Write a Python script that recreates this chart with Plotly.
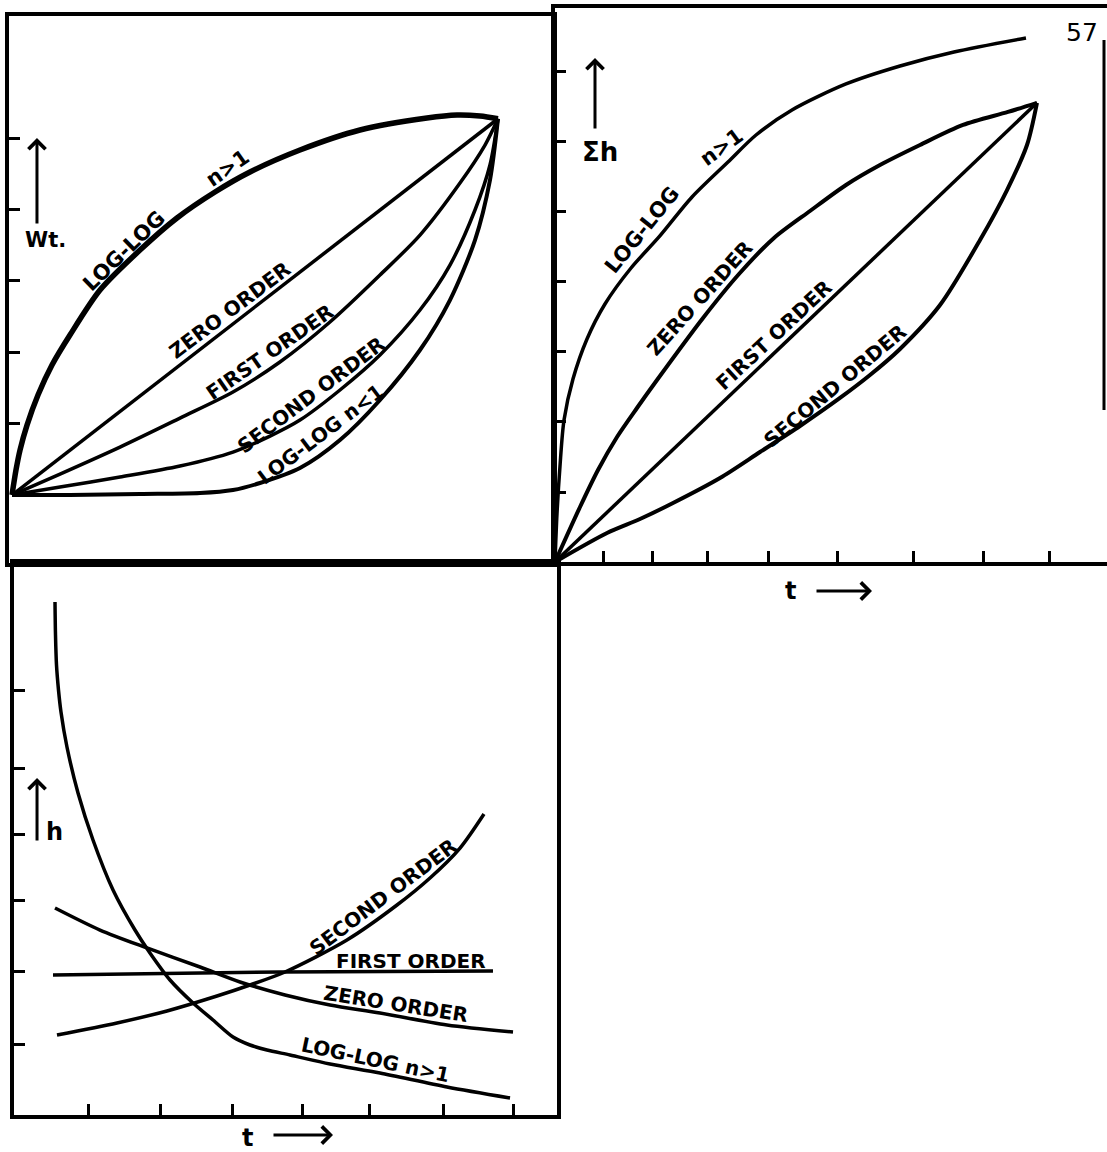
import plotly.graph_objects as go

W, H = 1107, 1152

# --- top left: weight vs time (t scaled 0..10, wt in tick units) ---
tl_t_loglog_gt1 = [0, 0.082, 0.165, 0.309, 0.535, 0.823, 1.193, 1.811, 2.634, 3.395, 4.177, 4.897, 5.926, 7.160, 8.539, 9.156, 9.630, 10]
tl_wt_loglog_gt1 = [0, 0.350, 0.630, 0.980, 1.401, 1.821, 2.241, 2.871, 3.431, 3.880, 4.244, 4.524, 4.832, 5.112, 5.280, 5.322, 5.308, 5.27]
tl_t_zero = [0, 10]
tl_wt_zero = [0, 5.27]
tl_t_first = [0, 0.988, 2.222, 3.457, 4.547, 5.514, 6.543, 7.572, 8.395, 9.218, 9.733, 10]
tl_wt_first = [0, 0.294, 0.672, 1.078, 1.443, 1.863, 2.423, 3.081, 3.641, 4.370, 4.902, 5.27]
tl_t_second = [0, 0.988, 2.222, 3.457, 4.547, 5.309, 5.926, 6.749, 7.572, 8.395, 9.012, 9.527, 9.835, 10]
tl_wt_second = [0, 0.112, 0.252, 0.406, 0.602, 0.826, 1.050, 1.471, 1.961, 2.591, 3.221, 3.992, 4.622, 5.27]
tl_t_loglog_lt1 = [0, 1.193, 2.634, 3.868, 4.547, 5.103, 5.926, 6.749, 7.572, 8.395, 9.012, 9.527, 9.835, 10]
tl_wt_loglog_lt1 = [0, 0, 0.014, 0.028, 0.070, 0.168, 0.378, 0.770, 1.331, 2.031, 2.731, 3.571, 4.412, 5.27]
tl_yticks = [1, 2, 3, 4, 5]

# --- top right: cumulative h vs time ---
tr_t_loglog = [0, 0.031, 0.078, 0.141, 0.281, 0.5, 0.781, 1.188, 1.625, 2.141, 2.703, 3.141, 3.703, 4.547, 5.391, 6.234, 7.359]
tr_sh_loglog = [0, 0.686, 1.371, 2.029, 2.614, 3.186, 3.686, 4.2, 4.643, 5.214, 5.714, 6.1, 6.457, 6.829, 7.086, 7.286, 7.486]
tr_t_zero = [0, 0.391, 0.672, 0.969, 1.281, 1.594, 2.313, 2.875, 3.422, 3.984, 4.547, 5.078, 5.703, 6.375, 7.078, 7.531]
tr_sh_zero = [0, 0.786, 1.314, 1.786, 2.2, 2.6, 3.486, 4.114, 4.629, 5.014, 5.386, 5.671, 5.957, 6.243, 6.429, 6.56]
tr_t_first = [0, 7.531]
tr_sh_first = [0, 6.56]
tr_t_second = [0, 0.813, 1.328, 1.844, 2.578, 3.203, 3.828, 4.453, 4.922, 5.391, 6.016, 6.641, 7.063, 7.375, 7.531]
tr_sh_second = [0, 0.414, 0.614, 0.843, 1.2, 1.571, 1.943, 2.343, 2.671, 3.043, 3.671, 4.6, 5.314, 5.957, 6.56]
tr_xticks = [0.75, 1.52, 2.39, 3.33, 4.42, 5.6, 6.7, 7.73]
tr_yticks = [1, 2, 3, 4, 5, 6, 7]

# --- bottom left: h vs time ---
bl_t_loglog = [0.575, 0.582, 0.596, 0.624, 0.659, 0.743, 0.898, 1.108, 1.389, 1.697, 1.907, 2.188, 2.511, 2.791, 3.072, 3.310, 3.548, 3.871, 4.432, 5.133, 6.073, 6.957]
bl_h_loglog = [7.175, 6.713, 6.294, 5.944, 5.636, 5.147, 4.503, 3.846, 3.147, 2.587, 2.266, 1.888, 1.566, 1.329, 1.091, 0.979, 0.909, 0.839, 0.713, 0.587, 0.392, 0.238]
bl_t_zero = [0.575, 1.206, 1.865, 2.609, 3.170, 3.801, 4.432, 5.133, 6.073, 6.999]
bl_h_zero = [2.895, 2.587, 2.336, 2.070, 1.860, 1.678, 1.538, 1.427, 1.259, 1.161]
bl_t_first = [0.547, 3.731, 6.718]
bl_h_first = [1.958, 2.0, 2.014]
bl_t_second = [0.603, 1.445, 2.146, 2.847, 3.310, 3.801, 4.670, 5.372, 5.835, 6.256, 6.592]
bl_h_second = [1.119, 1.287, 1.455, 1.664, 1.818, 2.0, 2.448, 2.937, 3.315, 3.734, 4.210]
bl_xticks = [1.04, 2.05, 3.07, 4.04, 4.99, 6.02, 7.0]
bl_yticks = [0.98, 2.0, 3.0, 3.92, 4.85, 5.94]

fig = go.Figure()


def curve(x, y, ax, width=3.5):
    fig.add_trace(go.Scatter(x=x, y=y, xaxis=ax[0], yaxis=ax[1], mode="lines",
                             line=dict(color="black", width=width, shape="spline", smoothing=0.8),
                             hoverinfo="skip"))


p1, p2, p3 = ("x", "y"), ("x2", "y2"), ("x3", "y3")
curve(tl_t_loglog_gt1, tl_wt_loglog_gt1, p1, 5.5)
curve(tl_t_zero, tl_wt_zero, p1)
curve(tl_t_first, tl_wt_first, p1)
curve(tl_t_second, tl_wt_second, p1)
curve(tl_t_loglog_lt1, tl_wt_loglog_lt1, p1, 4)

curve(tr_t_loglog, tr_sh_loglog, p2)
curve(tr_t_zero, tr_sh_zero, p2, 4)
curve(tr_t_first, tr_sh_first, p2)
curve(tr_t_second, tr_sh_second, p2, 4)

curve(bl_t_loglog, bl_h_loglog, p3)
curve(bl_t_zero, bl_h_zero, p3)
curve(bl_t_first, bl_h_first, p3)
curve(bl_t_second, bl_h_second, p3)

axis_style = dict(showline=True, linecolor="black", linewidth=3.5, showgrid=False, zeroline=False,
                  showticklabels=False, ticks="inside", ticklen=11, tickwidth=3, tickcolor="black",
                  fixedrange=True)

fig.update_layout(
    width=W, height=H, margin=dict(l=0, r=0, t=0, b=0),
    paper_bgcolor="white", plot_bgcolor="white", showlegend=False,
    xaxis=dict(axis_style, domain=[9 / W, 553 / W], range=[-0.0617, 11.132], mirror=True, ticks=""),
    yaxis=dict(axis_style, domain=[1 - 563 / H, 1 - 16 / H], range=[-0.952, 6.709], mirror=True,
               tickvals=tl_yticks),
    xaxis2=dict(axis_style, domain=[555 / W, 1.0], range=[0, 8.625], mirror=True, tickvals=tr_xticks,
                anchor="y2"),
    yaxis2=dict(axis_style, domain=[1 - 562 / H, 1 - 8 / H], range=[0, 7.914], tickvals=tr_yticks,
                anchor="x2"),
    xaxis3=dict(axis_style, domain=[14 / W, 557 / W], range=[0, 7.616], mirror=True, tickvals=bl_xticks,
                anchor="y3"),
    yaxis3=dict(axis_style, domain=[1 - 1115 / H, 1 - 563 / H], range=[0, 7.72], mirror=True,
                tickvals=bl_yticks, anchor="x3"),
)

FONT = "DejaVu Sans"


def label(text, x, y, ax, angle=0, size=20, bold=True):
    fig.add_annotation(x=x, y=y, xref=ax[0], yref=ax[1], text=f"<b>{text}</b>" if bold else text,
                       textangle=angle, showarrow=False, xanchor="center", yanchor="middle",
                       font=dict(family=FONT, size=size, color="black"))


def arrow(x, y, ax, dx, dy):
    fig.add_annotation(x=x, y=y, xref=ax[0], yref=ax[1], ax=dx, ay=dy, text="", showarrow=True,
                       arrowhead=4, arrowsize=1.1, arrowwidth=3, arrowcolor="black")


# top left labels
label("LOG-LOG", 2.305, 3.417, p1, -44, 21)
label("n&gt;1", 4.444, 4.580, p1, -35, 21)
label("ZERO ORDER", 4.486, 2.591, p1, -37)
label("FIRST ORDER", 5.309, 2.003, p1, -35)
label("SECOND ORDER", 6.152, 1.401, p1, -37)
label("LOG-LOG n&lt;1", 6.358, 0.854, p1, -37)
label("Wt.", 0.679, 3.571, p1, 0, 21)
arrow(0.514, 5.0, p1, 0, 87)

# top right labels
label("LOG-LOG", 1.359, 4.743, p2, -51, 21)
label("n&gt;1", 2.609, 5.929, p2, -36, 21)
label("ZERO ORDER", 2.266, 3.771, p2, -48)
label("FIRST ORDER", 3.422, 3.243, p2, -43)
label("SECOND ORDER", 4.375, 2.514, p2, -40)
label("Σh", 0.703, 5.857, p2, 0, 26)
arrow(0.625, 7.2, p2, 0, 72)
label("57", 8.234, 7.557, p2, 0, 25, bold=False)

# bottom left labels
label("SECOND ORDER", 5.175, 3.049, p3, -37)
label("FIRST ORDER", 5.568, 2.154, p3, 0)
label("ZERO ORDER", 5.358, 1.552, p3, 9)
label("LOG-LOG n&gt;1", 5.077, 0.769, p3, 12)
label("h", 0.561, 3.958, p3, 0, 24)
arrow(0.323, 4.713, p3, 0, 64)

# time labels under the two x axes (outside the plot areas, so in paper units)
for tx, ty, hx, hy, dx in [(790, 591, 872, 591, -57), (247, 1138, 333, 1135, -61)]:
    fig.add_annotation(x=tx / W, y=1 - ty / H, xref="paper", yref="paper", text="<b>t</b>",
                       showarrow=False, xanchor="center", yanchor="middle",
                       font=dict(family=FONT, size=24, color="black"))
    fig.add_annotation(x=hx / W, y=1 - hy / H, xref="paper", yref="paper", ax=dx, ay=0, text="",
                       showarrow=True, arrowhead=4, arrowsize=1.1, arrowwidth=3, arrowcolor="black")

# scrap of the right-hand frame edge
fig.add_shape(type="line", xref="paper", yref="paper", x0=1104 / W, x1=1104 / W,
              y0=1 - 40 / H, y1=1 - 410 / H, line=dict(color="black", width=3))

fig.write_html("out.html", config={"displayModeBar": False},
               post_script="document.body.style.margin='0';")
